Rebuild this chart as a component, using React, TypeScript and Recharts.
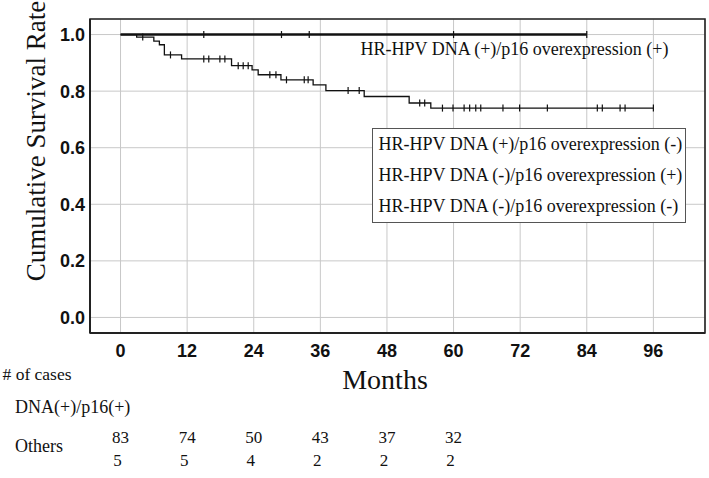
import React from "react";
import {
  ComposedChart,
  Line,
  Scatter,
  XAxis,
  YAxis,
  CartesianGrid,
  ReferenceArea,
  Legend,
} from "recharts";

// ---- data ----
const MONTH_TICKS = [0, 12, 24, 36, 48, 60, 72, 84, 96];
const Y_TICKS = [0, 0.2, 0.4, 0.6, 0.8, 1.0];

// HR-HPV DNA(+)/p16(+) curve (no events)
const POS_TIMES = [0, 84];
const POS_SURV = [1.0, 1.0];
const POS_CENSOR = [15, 29, 34, 60, 84];

// lower stepped curve
const OTHER_TIMES = [0, 2.9, 6.0, 7.0, 7.9, 11.0, 20.0, 23.7, 24.8, 28.9, 34.7, 37.0, 43.9, 52.0, 55.9, 96];
const OTHER_SURV = [1.0, 0.991, 0.977, 0.964, 0.928, 0.914, 0.89, 0.875, 0.858, 0.84, 0.822, 0.802, 0.781, 0.758, 0.74, 0.74];
const OTHER_CENSOR = [
  4.0, 9.0, 15.0, 15.9, 17.9, 18.8, 21.2, 22.1, 23.0, 26.9, 28.0, 29.9, 33.1, 33.8,
  41.0, 43.0, 53.9, 54.8, 58.0, 59.9, 61.9, 62.9, 64.0, 64.9, 68.9, 71.9, 76.9,
  85.9, 86.8, 90.0, 90.9, 96.0,
];

// number at risk table
const AT_RISK_TIMES = [0, 12, 24, 36, 48, 60];
const AT_RISK_POS = [83, 74, 50, 43, 37, 32];
const AT_RISK_OTHERS = [5, 5, 4, 2, 2, 2];

const LEGEND_LABELS = [
  "HR-HPV DNA (+)/p16 overexpression (-)",
  "HR-HPV DNA (-)/p16 overexpression (+)",
  "HR-HPV DNA (-)/p16 overexpression (-)",
];
const TOP_LABEL = "HR-HPV DNA (+)/p16 overexpression (+)";

// ---- helpers ----
const toPoints = (times: number[], surv: number[]) =>
  times.map((t, i) => ({ t, s: surv[i] }));

const stepValueAt = (times: number[], surv: number[], x: number) => {
  let v = surv[0];
  for (let i = 0; i < times.length; i++) {
    if (times[i] <= x) v = surv[i];
  }
  return v;
};

const censorPoints = (censor: number[], times: number[], surv: number[]) =>
  censor.map((t) => ({ t, s: stepValueAt(times, surv, t) }));

const posLine = toPoints(POS_TIMES, POS_SURV);
const otherLine = toPoints(OTHER_TIMES, OTHER_SURV);
const posCensor = censorPoints(POS_CENSOR, POS_TIMES, POS_SURV);
const otherCensor = censorPoints(OTHER_CENSOR, OTHER_TIMES, OTHER_SURV);

const SANS = "'Liberation Sans', Arial, sans-serif";
const SERIF = "'Liberation Serif', 'Times New Roman', serif";

const CensorMark = (props: any) => {
  const { cx, cy } = props;
  if (cx == null || cy == null) return null;
  return (
    <line x1={cx} x2={cx} y1={cy - 3.5} y2={cy + 3.5} stroke="#111" strokeWidth={1.2} />
  );
};

const MonthTick = (props: any) => {
  const { x, y, payload } = props;
  const v = payload.value;
  const idx = AT_RISK_TIMES.indexOf(v);
  return (
    <g>
      <text x={x} y={y + 23.7} textAnchor="middle" fontFamily={SANS} fontWeight="bold" fontSize={18} fill="#111">
        {v}
      </text>
      {idx >= 0 && (
        <text x={x} y={y + 110} textAnchor="middle" fontFamily={SERIF} fontSize={17} fill="#111">
          {AT_RISK_POS[idx]}
        </text>
      )}
      {idx >= 0 && (
        <text x={x - 3} y={y + 133} textAnchor="middle" fontFamily={SERIF} fontSize={17} fill="#111">
          {AT_RISK_OTHERS[idx]}
        </text>
      )}
    </g>
  );
};

const LegendBox = () => (
  <div
    style={{
      border: "1px solid #555",
      background: "#fff",
      fontFamily: SERIF,
      fontSize: 18,
      lineHeight: "31px",
      color: "#111",
      paddingLeft: 6,
      whiteSpace: "nowrap",
      boxSizing: "border-box",
      width: 314,
    }}
  >
    {LEGEND_LABELS.map((l) => (
      <div key={l}>{l}</div>
    ))}
  </div>
);

export default function App() {
  return (
    <div style={{ position: "absolute", left: 0, top: 0, width: 709, height: 478, background: "#fff" }}>
      <ComposedChart
        width={709}
        height={478}
        margin={{ top: 19, right: 4, left: 0, bottom: 0 }}
      >
        <CartesianGrid stroke="#c8c8c8" strokeWidth={1} />
        <XAxis
          dataKey="t"
          type="number"
          domain={[-5.5, 105.3]}
          ticks={MONTH_TICKS}
          interval={0}
          height={145}
          tickSize={0}
          tickMargin={0}
          tick={<MonthTick />}
          axisLine={{ stroke: "#222", strokeWidth: 2 }}
          tickLine={false}
          allowDataOverflow
        />
        <YAxis
          type="number"
          domain={[-0.055, 1.055]}
          ticks={Y_TICKS}
          interval={0}
          width={90}
          tickSize={0}
          tickMargin={5}
          tickFormatter={(v: number) => v.toFixed(1)}
          tick={{ fontSize: 18, fontWeight: "bold", fill: "#111", fontFamily: SANS }}
          axisLine={{ stroke: "#222", strokeWidth: 2 }}
          tickLine={false}
          allowDataOverflow
        />
        <ReferenceArea
          x1={-5.5}
          x2={105.3}
          y1={-0.055}
          y2={1.055}
          fill="none"
          stroke="#222"
          strokeWidth={1.6}
        />
        <Line
          data={otherLine}
          dataKey="s"
          type="stepAfter"
          stroke="#111"
          strokeWidth={1.3}
          dot={false}
          activeDot={false}
          isAnimationActive={false}
          name="others"
        />
        <Line
          data={posLine}
          dataKey="s"
          type="stepAfter"
          stroke="#111"
          strokeWidth={2.6}
          dot={false}
          activeDot={false}
          isAnimationActive={false}
          name="pos"
        />
        <Scatter data={otherCensor} dataKey="s" shape={<CensorMark />} isAnimationActive={false} />
        <Scatter data={posCensor} dataKey="s" shape={<CensorMark />} isAnimationActive={false} />
        <Legend
          layout="horizontal"
          verticalAlign="middle"
          align="center"
          content={() => <LegendBox />}
          wrapperStyle={{ left: 371.5, top: 128, width: 314, height: "auto" }}
        />
      </ComposedChart>
      <svg
        width={709}
        height={478}
        style={{ position: "absolute", left: 0, top: 0, pointerEvents: "none" }}
      >
        <text
          x={45}
          y={141}
          transform="rotate(-90 45 141)"
          textAnchor="middle"
          fontFamily={SERIF}
          fontSize={27}
          fill="#111"
        >
          Cumulative Survival Rate
        </text>
        <text x={360.5} y={55} fontFamily={SERIF} fontSize={18} fill="#111">
          {TOP_LABEL}
        </text>
        <text x={385} y={389} textAnchor="middle" fontFamily={SERIF} fontSize={28} fill="#111">
          Months
        </text>
        <text x={2.5} y={380} fontFamily={SERIF} fontSize={17.5} fill="#111">
          # of cases
        </text>
        <text x={15} y={413} fontFamily={SERIF} fontSize={18} fill="#111">
          DNA(+)/p16(+)
        </text>
        <text x={15} y={452} fontFamily={SERIF} fontSize={18} fill="#111">
          Others
        </text>
      </svg>
    </div>
  );
}
